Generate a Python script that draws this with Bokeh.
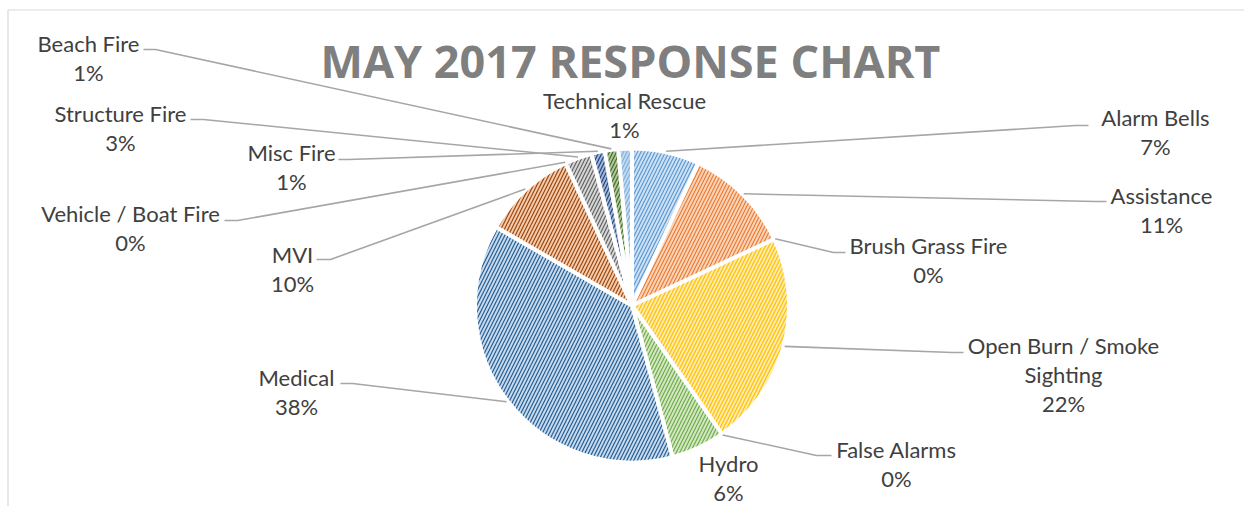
import math
import textwrap
from bokeh.plotting import figure
from bokeh.models import Range1d, ColumnDataSource
from bokeh.core.properties import value
from bokeh.embed import file_html
from bokeh.resources import INLINE

# ---------------- data ----------------
title_text = "MAY 2017 RESPONSE CHART"
categories = [
    "Alarm Bells", "Assistance", "Brush Grass Fire", "Open Burn / Smoke Sighting",
    "False Alarms", "Hydro", "Medical", "MVI", "Vehicle / Boat Fire",
    "Structure Fire", "Misc Fire", "Beach Fire", "Technical Rescue",
]
counts = [5, 8, 0, 16, 0, 4, 27, 7, 0, 2, 1, 1, 1]

# ---------------- styles ----------------
fill_colors = ["#CFE1F3", "#FAD5BD", "#D6D6D6", "#FFEBAD", "#B9C9E9", "#D3E6C6",
               "#C8DAEF", "#F5CBAE", "#C4C4C4", "#D6D6D6", "#A3B8DD", "#B1CA9B", "#C3DAF0"]
hatch_colors = ["#5B9BD5", "#ED7D31", "#A5A5A5", "#FFC000", "#4472C4", "#70AD47",
                "#255E91", "#9E480E", "#636363", "#636363", "#264478", "#43682B", "#7CAFDD"]

W, H = 1244, 506


def sx(X):
    return X


def sy(Y):
    return H - Y


# label layout in picture pixels: (center x, first line y, elbow point, stub end)
layout = {
    "Alarm Bells": (1155, 117, (1075, 125), (1088, 125)),
    "Assistance": (1161, 195, (1095, 201), (1106, 201)),
    "Brush Grass Fire": (928, 245, (833, 252), (845, 252)),
    "Open Burn / Smoke Sighting": (1063, 345, (952, 352), (963, 352)),
    "False Alarms": (896, 449, (816, 455), (831, 455)),
    "Hydro": (728, 463, None, None),
    "Medical": (296, 377, (352, 383), (340, 383)),
    "MVI": (292, 254, (330, 259), (316, 259)),
    "Vehicle / Boat Fire": (130, 213, (237, 220), (224, 220)),
    "Misc Fire": (291, 152, (348, 159), (338, 159)),
    "Structure Fire": (120, 113, (203, 119), (190, 119)),
    "Beach Fire": (88, 43, (155, 49), (143, 49)),
    "Technical Rescue": (624, 100, None, None),
}

CX, CY = sx(631.5), sy(305)
R = 157
R_ANCHOR = 158
LINE_STEP = 29

p = figure(width=W, height=H, x_range=Range1d(0, W), y_range=Range1d(0, H),
           x_axis_type=None, y_axis_type=None, output_backend="svg",
           toolbar_location=None, min_border=0, outline_line_color=None,
           background_fill_color="white", border_fill_color="white")

# chart border (top and left visible)
p.segment(x0=[sx(7.5), sx(7.5)], y0=[sy(9.5), 0], x1=[W, sx(7.5)], y1=[sy(9.5), sy(9.5)],
          line_color="#D9D9D9", line_width=1.2)

total = sum(counts)
wedge = dict(start=[], end=[], fill=[], hatch=[])
lx, ly = [], []
tx, ty, tt = [], [], []
cum = 0
for i, (name, c) in enumerate(zip(categories, counts)):
    f0 = cum / total
    cum += c
    f1 = cum / total
    if c > 0:
        wedge["start"].append(math.pi / 2 - 2 * math.pi * f1)
        wedge["end"].append(math.pi / 2 - 2 * math.pi * f0)
        wedge["fill"].append(fill_colors[i])
        wedge["hatch"].append(hatch_colors[i])
    mid = 2 * math.pi * (f0 + f1) / 2  # clockwise from 12 o'clock
    ax = CX + R_ANCHOR * math.sin(mid)
    ay = CY + R_ANCHOR * math.cos(mid)
    xc, yc, elbow, stub = layout[name]
    if elbow is not None:
        lx.append([ax, sx(elbow[0]), sx(stub[0])])
        ly.append([ay, sy(elbow[1]), sy(stub[1])])
    pct = int(c * 100 / total + 0.5)
    lines = textwrap.wrap(name, 19) + [f"{pct}%"]
    for k, ln in enumerate(lines):
        tx.append(sx(xc))
        ty.append(sy(yc + k * LINE_STEP))
        tt.append(ln)

src = ColumnDataSource(wedge)
p.wedge(x=CX, y=CY, radius=R, start_angle="start", end_angle="end",
        direction="anticlock", fill_color="fill", hatch_pattern="/",
        hatch_color="hatch", hatch_scale=7, hatch_weight=1.2,
        line_color="white", line_width=4, source=src)

p.multi_line(xs=lx, ys=ly, line_color="#A6A6A6", line_width=1.6)

p.text(x=tx, y=ty, text=tt, text_font=value("Lato"), text_font_size="22px",
       text_color="#404040", text_align="center", text_baseline="middle")

p.text(x=[sx(630)], y=[sy(60)], text=[title_text], text_font=value("Open Sans"),
       text_font_style="bold", text_font_size="45px", text_color="#7F7F7F",
       text_align="center", text_baseline="middle")

open("out.html", "w").write(file_html(p, INLINE))
